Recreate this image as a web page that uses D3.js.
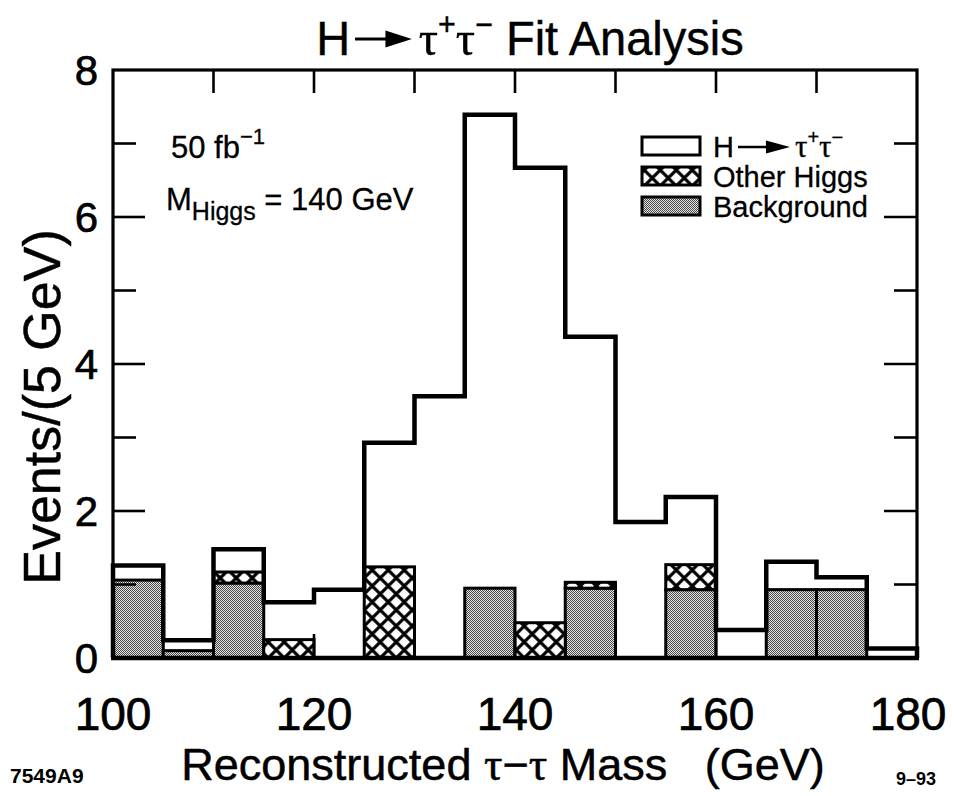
<!DOCTYPE html>
<html><head><meta charset="utf-8">
<script src="https://cdn.jsdelivr.net/npm/d3@7"></script>
<style>body{margin:0;background:#fff}svg{display:block}</style>
</head><body>
<script>
// ---- data ----
const binStarts = [100,105,110,115,120,125,130,135,140,145,150,155,160,165,170,175];
const binWidth = 5;
const background = [1.06,0.10,1.02,0,0,0,0,0.95,0,0.95,0,0.93,0,0.93,0.93,0];
const otherHiggs = [0,0,0.15,0.25,0,1.24,0,0,0.48,0.08,0,0.34,0,0,0,0];
const signal     = [0.20,0.14,0.31,0.51,0.93,1.69,3.56,6.44,6.19,3.34,1.85,0.92,0.38,0.38,0.17,0.13];
const xTickLabels = [100,120,140,160,180];
const xMinorTicks = [110,120,130,140,150,160,170];
const yTickLabels = [0,2,4,6,8];
const yMinorTicks = [1,3,5,7];
const legendItems = ["signal","Other Higgs","Background"];

// ---- setup ----
const W=954,H=796;
const FONT="'Liberation Sans', Arial, Helvetica, sans-serif";
const SERIF="'Liberation Serif', 'Times New Roman', serif";
const svg=d3.select("body").append("svg").attr("width",W).attr("height",H);
const x=d3.scaleLinear().domain([100,180]).range([113,917]);
const y=d3.scaleLinear().domain([0,8]).range([658,70]);

const defs=svg.append("defs");
const st=defs.append("pattern").attr("id","stip").attr("patternUnits","userSpaceOnUse").attr("width",2).attr("height",2);
st.append("rect").attr("width",2).attr("height",2).attr("fill","#e4e4e4");
st.append("rect").attr("width",1).attr("height",1).attr("fill","#4a4a4a");
st.append("rect").attr("x",1).attr("y",1).attr("width",1).attr("height",1).attr("fill","#4a4a4a");
const hp=defs.append("pattern").attr("id","hatch").attr("patternUnits","userSpaceOnUse").attr("width",16).attr("height",16).attr("x",x(125)).attr("y",y(0));
hp.append("rect").attr("width",16).attr("height",16).attr("fill","#fff");
hp.append("path").attr("d","M-4,-4L20,20M20,-4L-4,20").attr("stroke","#000").attr("stroke-width",3.2);

// ---- stacked data ----
const bins=binStarts.map((s,i)=>({x0:s,x1:s+binWidth,bg:background[i],oh:otherHiggs[i],sig:signal[i],
  total:background[i]+otherHiggs[i]+signal[i]}));

const plot=svg.append("g");
plot.selectAll("rect.bg").data(bins.filter(d=>d.bg>0)).join("rect").attr("class","bg")
  .attr("x",d=>x(d.x0)).attr("width",d=>x(d.x1)-x(d.x0))
  .attr("y",d=>y(d.bg)).attr("height",d=>y(0)-y(d.bg))
  .attr("fill","url(#stip)").attr("stroke","#000").attr("stroke-width",3);
plot.selectAll("rect.oh").data(bins.filter(d=>d.oh>0)).join("rect").attr("class","oh")
  .attr("x",d=>x(d.x0)).attr("width",d=>x(d.x1)-x(d.x0))
  .attr("y",d=>y(d.bg+d.oh)).attr("height",d=>y(d.bg)-y(d.bg+d.oh))
  .attr("fill","url(#hatch)").attr("stroke","#000").attr("stroke-width",3);
let p=`M${x(100)},${y(0)}`;
bins.forEach(d=>{p+=`V${y(d.total)}H${x(d.x1)}`;});
p+=`V${y(0)}`;
plot.append("path").attr("d",p).attr("fill","none").attr("stroke","#000").attr("stroke-width",4.5).attr("stroke-linejoin","miter");

// ---- frame & ticks ----
svg.append("rect").attr("x",x(100)).attr("y",y(8)).attr("width",x(180)-x(100)).attr("height",y(0)-y(8))
  .attr("fill","none").attr("stroke","#000").attr("stroke-width",3.2);
svg.append("line").attr("x1",x(100)-2).attr("x2",x(180)+2).attr("y1",y(0)).attr("y2",y(0)).attr("stroke","#000").attr("stroke-width",4.5);
const tk=svg.append("g").attr("stroke","#000").attr("stroke-width",2.6);
xMinorTicks.forEach(v=>{
  tk.append("line").attr("x1",x(v)).attr("x2",x(v)).attr("y1",y(8)).attr("y2",y(8)+23);
  tk.append("line").attr("x1",x(v)).attr("x2",x(v)).attr("y1",y(0)).attr("y2",y(0)-24);
});
yTickLabels.slice(1,-1).forEach(v=>{
  tk.append("line").attr("x1",x(100)).attr("x2",x(100)+32).attr("y1",y(v)).attr("y2",y(v));
  tk.append("line").attr("x1",x(180)).attr("x2",x(180)-33).attr("y1",y(v)).attr("y2",y(v));
});
yMinorTicks.forEach(v=>{
  tk.append("line").attr("x1",x(100)).attr("x2",x(100)+23).attr("y1",y(v)).attr("y2",y(v));
  tk.append("line").attr("x1",x(180)).attr("x2",x(180)-23).attr("y1",y(v)).attr("y2",y(v));
});

// ---- tick labels ----
const tl=svg.append("g").attr("font-family",FONT).attr("fill","#000").attr("stroke","#000").attr("stroke-width",0.7);
tl.selectAll("text.xl").data(xTickLabels).join("text").attr("class","xl")
  .attr("x",d=>Math.min(x(d),W-46)).attr("y",730).attr("text-anchor","middle").attr("font-size",46).text(d=>d);
tl.selectAll("text.yl").data(yTickLabels).join("text").attr("class","yl")
  .attr("x",98).attr("y",d=>y(d)+15).attr("text-anchor","end").attr("font-size",42).text(d=>d);

// ---- rich text helper ----
function rich(parent,parts,o){
  const g=parent.append("g");
  const mid=g.append("g");
  const inner=mid.append("g");
  let cx=0;
  parts.forEach(pt=>{
    if(pt.arrow){
      const my=-pt.raise;
      inner.append("line").attr("x1",cx).attr("x2",cx+pt.w-pt.head*0.7).attr("y1",my).attr("y2",my)
        .attr("stroke","#000").attr("stroke-width",pt.lw);
      inner.append("path").attr("d",`M${cx+pt.w-pt.head},${my-pt.hh/2}L${cx+pt.w},${my}L${cx+pt.w-pt.head},${my+pt.hh/2}Z`).attr("fill","#000");
      cx+=pt.w+(pt.gap||0);
    } else {
      const t=inner.append("text").attr("x",cx).attr("y",pt.dy||0).attr("font-size",pt.size)
        .attr("font-family",pt.family||FONT).attr("fill","#000").style("white-space","pre").text(pt.t);
      if(o.stroke) t.attr("stroke","#000").attr("stroke-width",o.stroke);
      cx+=t.node().getComputedTextLength()+(pt.gap||0);
    }
  });
  const sx=o.sx||1;
  const wdt=cx*sx;
  const off=o.anchor==="middle"?-wdt/2:o.anchor==="end"?-wdt:0;
  g.attr("transform",`translate(${o.x},${o.y})${o.rot?` rotate(${o.rot})`:""}`);
  mid.attr("transform",`translate(${off},0)`);
  inner.attr("transform",`scale(${sx},1)`);
  return g;
}

// ---- title ----
rich(svg,[
  {t:"H",size:48,gap:5},
  {arrow:true,w:58,head:27,hh:17,lw:3,raise:16,gap:7},
  {t:"τ",size:49,family:SERIF},
  {t:"+",size:31,dy:-20},
  {t:"τ",size:49,family:SERIF},
  {t:"−",size:31,dy:-20},
  {t:" Fit Analysis",size:48}
],{x:530,y:55,anchor:"middle",sx:0.98,stroke:0.4});

// ---- annotations ----
rich(svg,[{t:"50 fb",size:31},{t:"−1",size:22,dy:-14}],{x:171,y:158,stroke:0.3});
rich(svg,[{t:"M",size:31},{t:"Higgs",size:25,dy:10},{t:" = 140 GeV",size:31}],{x:166,y:210,stroke:0.3});

// ---- legend ----
const lg=svg.append("g");
const legendFills=["#fff","url(#hatch)","url(#stip)"];
legendItems.forEach((name,i)=>{
  const base=157+i*30;
  lg.append("rect").attr("x",642).attr("y",base-20).attr("width",58).attr("height",18)
    .attr("fill",legendFills[i]).attr("stroke","#000").attr("stroke-width",3);
  if(name==="signal"){
    rich(lg,[{t:"H",size:29,gap:4},{arrow:true,w:52,head:24,hh:13,lw:2.5,raise:10,gap:5},
      {t:"τ",size:31,family:SERIF},{t:"+",size:20,dy:-13},{t:"τ",size:31,family:SERIF},{t:"−",size:20,dy:-13}],{x:713,y:base,stroke:0.3});
  } else {
    lg.append("text").attr("x",713).attr("y",base).attr("font-family",FONT).attr("font-size",29)
      .attr("stroke","#000").attr("stroke-width",0.3).text(name);
  }
});

// ---- axis titles ----
rich(svg,[{t:"Events/(5 GeV)",size:52}],{x:60,y:407,anchor:"middle",rot:-90,stroke:0.5});
rich(svg,[{t:"Reconstructed ",size:45},{t:"τ",size:46,family:SERIF},{t:"−",size:45},{t:"τ",size:46,family:SERIF},{t:" Mass   (GeV)",size:45}],{x:503,y:780,anchor:"middle",stroke:0.5});

svg.append("text").attr("x",10).attr("y",783).attr("font-family",FONT).attr("font-size",21).attr("font-weight","bold").text("7549A9");
svg.append("text").attr("x",896).attr("y",785).attr("font-family",FONT).attr("font-size",18).attr("font-weight","bold").text("9–93");
</script>
</body></html>
